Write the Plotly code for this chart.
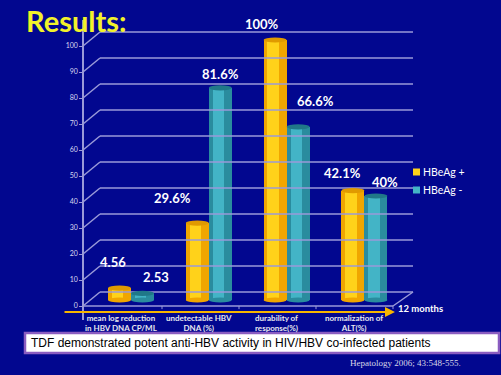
import plotly.graph_objects as go

# ---------------- data ----------------
categories = ["mean log reduction<br>in HBV DNA CP/ML", "undetectable HBV<br>DNA (%)",
              "durability of<br>response(%)", "normalization of<br>ALT(%)"]
hbeag_pos = [4.56, 29.6, 100, 42.1]
hbeag_neg = [2.53, 81.6, 66.6, 40]
series_names = ["HBeAg +", "HBeAg -"]
y_ticks = [0, 10, 20, 30, 40, 50, 60, 70, 80, 90, 100]

# ---------------- layout constants ----------------
W, H = 501, 375
BG = "#02078f"
GRID = "#9a9ad8"
YEL, YEL_HI, YEL_TOP = "#f0a600", "#ffd21a", "#e09a00"
TEA, TEA_HI, TEA_TOP = "#2a8c9e", "#43b4c6", "#207888"
DEPTH = 14 / 2.6      # back-wall offset in y units
BAR_LIFT = 6 / 2.6    # bars sit between front and back
BW = 0.296
OFF = 0.148

def px(x):
    return x / W

def py(y):
    return 1 - y / H

fig = go.Figure()

xs = list(range(len(categories)))
groups = [(hbeag_pos, -OFF, YEL, YEL_HI, YEL_TOP, series_names[0]),
          (hbeag_neg, OFF, TEA, TEA_HI, TEA_TOP, series_names[1])]

shapes = []
annotations = []

# back-wall gridlines with perspective segment
for t in y_ticks:
    shapes.append(dict(type="line", xref="paper", yref="y", x0=px(83), x1=px(100),
                       y0=t, y1=t + DEPTH, line=dict(color=GRID, width=1.5)))
    shapes.append(dict(type="line", xref="paper", yref="y", x0=px(100), x1=px(413),
                       y0=t + DEPTH, y1=t + DEPTH, line=dict(color=GRID, width=1.5)))
# floor
shapes.append(dict(type="line", xref="paper", yref="y", x0=px(83), x1=px(393),
                   y0=0, y1=0, line=dict(color=GRID, width=1.5)))
shapes.append(dict(type="line", xref="paper", yref="y", x0=px(393), x1=px(413),
                   y0=0, y1=DEPTH, line=dict(color=GRID, width=1.5)))
for tx in [162, 239, 316, 393]:
    shapes.append(dict(type="line", xref="paper", yref="y", x0=px(tx), x1=px(tx),
                       y0=0, y1=-1.2, line=dict(color=GRID, width=1)))

# cylinders
for vals, off, c, chi, ctop, name in groups:
    bx = [x + off for x in xs]
    fig.add_trace(go.Bar(x=bx, y=vals, width=BW, marker=dict(color=c, line=dict(width=0)),
                         name=name, yaxis="y2", showlegend=False, hoverinfo="skip"))
    fig.add_trace(go.Bar(x=[b - BW * 0.08 for b in bx], y=vals, width=BW * 0.5,
                         marker=dict(color=chi, line=dict(width=0)), yaxis="y2",
                         showlegend=False, hoverinfo="skip"))
    for b, v in zip(bx, vals):
        shapes.append(dict(type="circle", xref="x", yref="y2", x0=b - BW / 2, x1=b + BW / 2,
                           y0=-1, y1=1, fillcolor=c, line=dict(width=0), layer="above"))
        shapes.append(dict(type="circle", xref="x", yref="y2", x0=b - BW / 2, x1=b + BW / 2,
                           y0=v - 1, y1=v + 1, fillcolor=ctop, line=dict(width=0), layer="above"))

# value labels (pixel offsets from each bar top)
lab_dx = [[-6, -25, -13, -10], [13, 0, 17, 9.5]]
lab_dy = [[26, 25, 16, 17.5], [16, 14, 26, 14]]
for si, (vals, off, c, chi, ctop, name) in enumerate(groups):
    for i, v in enumerate(vals):
        txt = f"{v:g}" + ("" if i == 0 else "%")
        annotations.append(dict(x=i + off, y=v, xref="x", yref="y2", text=txt,
                                showarrow=False, xshift=lab_dx[si][i], yshift=lab_dy[si][i],
                                font=dict(family="Lato", size=13, color="white", weight="bold")))

# category labels
cat_px = [121, 199, 276, 354]
for i, cat in enumerate(categories):
    annotations.append(dict(x=px(cat_px[i]), y=py(322.5), xref="paper", yref="paper", text=cat,
                            showarrow=False, xanchor="center", yanchor="middle",
                            font=dict(family="Lato", size=8, color="#e8e8f0", weight="bold")))

# yellow arrow
annotations.append(dict(x=px(395), y=py(312), xref="paper", yref="paper", ax=-332, ay=0,
                        text="", showarrow=True, arrowhead=2, arrowsize=1, arrowwidth=2,
                        arrowcolor="#f7b500"))
annotations.append(dict(x=px(396), y=py(316), xref="paper", yref="paper", text="12 months",
                        showarrow=False, xanchor="left",
                        font=dict(family="Lato", size=9.5, color="white", weight="bold")))

# legend (manual)
for k, (col, name) in enumerate([(YEL_HI, series_names[0]), (TEA_HI, series_names[1])]):
    yc = 172 + k * 18
    shapes.append(dict(type="rect", xref="paper", yref="paper", x0=px(413), x1=px(420),
                       y0=py(yc + 3.5), y1=py(yc - 3.5), fillcolor=col, line=dict(width=0)))
    annotations.append(dict(x=px(421), y=py(yc), xref="paper", yref="paper", text=name,
                            showarrow=False, xanchor="left", yanchor="middle",
                            font=dict(family="Lato", size=10.5, color="white")))

# title
annotations.append(dict(x=px(24), y=py(20), xref="paper", yref="paper", text="Results:",
                        showarrow=False, xanchor="left", yanchor="middle",
                        font=dict(family="Lato", size=29, color="#f2f22a", weight="bold")))

# bottom box
shapes.append(dict(type="rect", xref="paper", yref="paper", x0=px(25), x1=px(499),
                   y0=py(353), y1=py(333), fillcolor="white",
                   line=dict(color="#8a5cc0", width=2.5)))
annotations.append(dict(x=px(29), y=py(343), xref="paper", yref="paper",
                        text="TDF demonstrated potent anti-HBV activity in HIV/HBV co-infected patients",
                        showarrow=False, xanchor="left", yanchor="middle",
                        font=dict(family="Liberation Sans", size=12, color="black")))
annotations.append(dict(x=px(463), y=py(363), xref="paper", yref="paper",
                        text="Hepatology 2006; 43:548-555.", showarrow=False, xanchor="right",
                        yanchor="middle",
                        font=dict(family="Liberation Serif", size=9, color="#d8d8e8")))

yr = [-5.3846, 110]
fig.update_layout(
    width=W, height=H, margin=dict(l=0, r=0, t=0, b=0),
    paper_bgcolor=BG, plot_bgcolor=BG, barmode="overlay", bargap=0,
    showlegend=False,
    xaxis=dict(domain=[60 / W, 440 / W], range=[-0.9126, 3.9717], visible=False,
               fixedrange=True),
    yaxis=dict(domain=[55 / H, 355 / H], range=yr, anchor="free", position=83 / W,
               tickvals=y_ticks, showgrid=False, zeroline=False, showline=True,
               linecolor=GRID, linewidth=1.5, ticks="outside", ticklen=3, tickcolor=GRID,
               tickfont=dict(family="Lato", size=7, color="#d8d8f0")),
    yaxis2=dict(domain=[55 / H, 355 / H], range=[yr[0] - BAR_LIFT, yr[1] - BAR_LIFT],
                overlaying="y", visible=False),
    shapes=shapes, annotations=annotations,
)

fig.write_html("out.html", config={"displayModeBar": False},
               post_script="document.body.style.margin='0';document.body.style.overflow='hidden';")
